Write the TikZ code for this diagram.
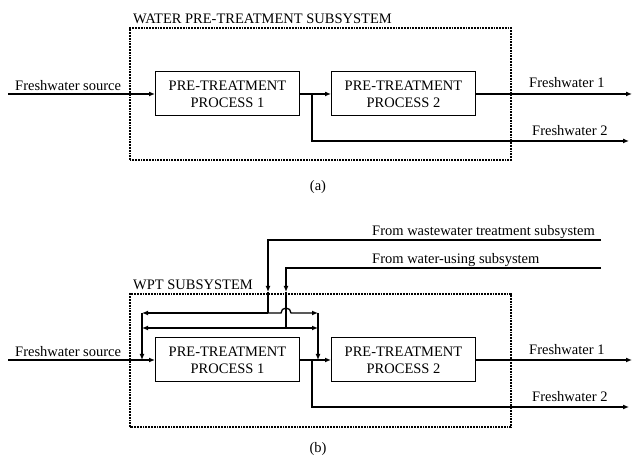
\documentclass[tikz,border=0pt]{standalone}
\usepackage{fontspec}
\setmainfont{Liberation Serif}
\usetikzlibrary{arrows.meta,positioning}

\begin{document}
\begin{tikzpicture}[
        x=1pt, y=1pt,
        >={Latex[length=6pt,width=5pt]},
        font=\fontsize{14.5}{17}\selectfont,
        process/.style={rectangle, draw, line width=1pt, minimum width=144pt, minimum height=44pt, align=center, inner sep=2pt},
        subsystem/.style={draw, densely dotted, line width=1.8pt},
        flow/.style={line width=1.3pt},
        label/.style={inner sep=0pt, anchor=base west},
    ]
        \useasboundingbox (0,0) rectangle (634,455);

        % ---------- (a) ----------
        \draw[subsystem] (130,295) rectangle (511,427);
        \node[label] (titleA) at (133,431) {WATER PRE-TREATMENT SUBSYSTEM};

        % Processes
        \node[process] (p1a) at (227.5,361) {PRE-TREATMENT\\PROCESS 1};
        \node[process] (p2a) at (403.5,361) {PRE-TREATMENT\\PROCESS 2};

        % Streams
        \coordinate (srcA) at (8,361);
        \coordinate (brA) at (312,361);
        \coordinate (outA1) at (632,361);
        \coordinate (outA2) at (629,314);
        \node[label] (lsrcA) at (15,364) {Freshwater source};
        \node[label] (lout1A) at (529,367) {Freshwater 1};
        \node[label] (lout2A) at (532,319) {Freshwater 2};

        \draw[flow, ->] (srcA) -- (p1a.west);
        \draw[line width=2.4pt] (p1a.east) -- (brA);
        \draw[flow, ->] (brA) -- (p2a.west);
        \draw[flow, ->] (brA) |- (outA2);
        \draw[flow, ->] (p2a.east) -- (outA1);

        \node[anchor=base] (capA) at (318,264) {(a)};

        % ---------- (b) ----------
        \draw[subsystem] (130,28) rectangle (511,161);
        \node[label] (titleB) at (133,165) {WPT SUBSYSTEM};

        % Processes
        \node[process] (p1b) at (227.5,95) {PRE-TREATMENT\\PROCESS 1};
        \node[process] (p2b) at (403.5,95) {PRE-TREATMENT\\PROCESS 2};

        % Streams
        \coordinate (srcB) at (8,95);
        \coordinate (brB) at (312,95);
        \coordinate (outB1) at (632,95);
        \coordinate (outB2) at (629,48);
        \node[label] (lsrcB) at (15,98) {Freshwater source};
        \node[label] (lout1B) at (529,100) {Freshwater 1};
        \node[label] (lout2B) at (532,53) {Freshwater 2};

        \draw[flow, ->] (srcB) -- (p1b.west);
        \draw[line width=2.4pt] (p1b.east) -- (brB);
        \draw[flow, ->] (brB) -- (p2b.west);
        \draw[flow, ->] (brB) |- (outB2);
        \draw[flow, ->] (p2b.east) -- (outB1);

        % Recycle streams
        \coordinate (ww) at (601,215);
        \coordinate (wwIn) at (268,163);
        \coordinate (wwJ) at (268,142);
        \coordinate (wu) at (601,187);
        \coordinate (wuIn) at (286,163);
        \coordinate (wuJ) at (286,127);
        \coordinate (lJ) at (142,142);
        \coordinate (lJ2) at (142,127);
        \coordinate (lIn) at (142,95);
        \coordinate (rJ) at (318,142);
        \coordinate (rJ2) at (318,127);
        \coordinate (rIn) at (318,95);
        \node[label] (lww) at (372,219) {From wastewater treatment subsystem};
        \node[label] (lwu) at (372,191) {From water-using subsystem};

        \draw[flow, ->] (ww) -| (wwIn);
        \draw[flow] (wwIn) -- (wwJ);
        \draw[flow, ->] (wu) -| (wuIn);
        \draw[flow] (wuIn) -- (wuJ);

        \draw[flow, ->] (wwJ) -- (lJ);
        \draw[flow, ->] (wwJ) -- (281,142) arc[start angle=180, end angle=0, radius=5] -- (rJ);
        \draw[flow, ->] (wuJ) -- (lJ2);
        \draw[flow, ->] (wuJ) -- (rJ2);
        \draw[flow, ->] (lJ) -- (lIn);
        \draw[flow, ->] (rJ) -- (rIn);

        \node[anchor=base] (capB) at (318,3) {(b)};

    \end{tikzpicture}
\end{document}
